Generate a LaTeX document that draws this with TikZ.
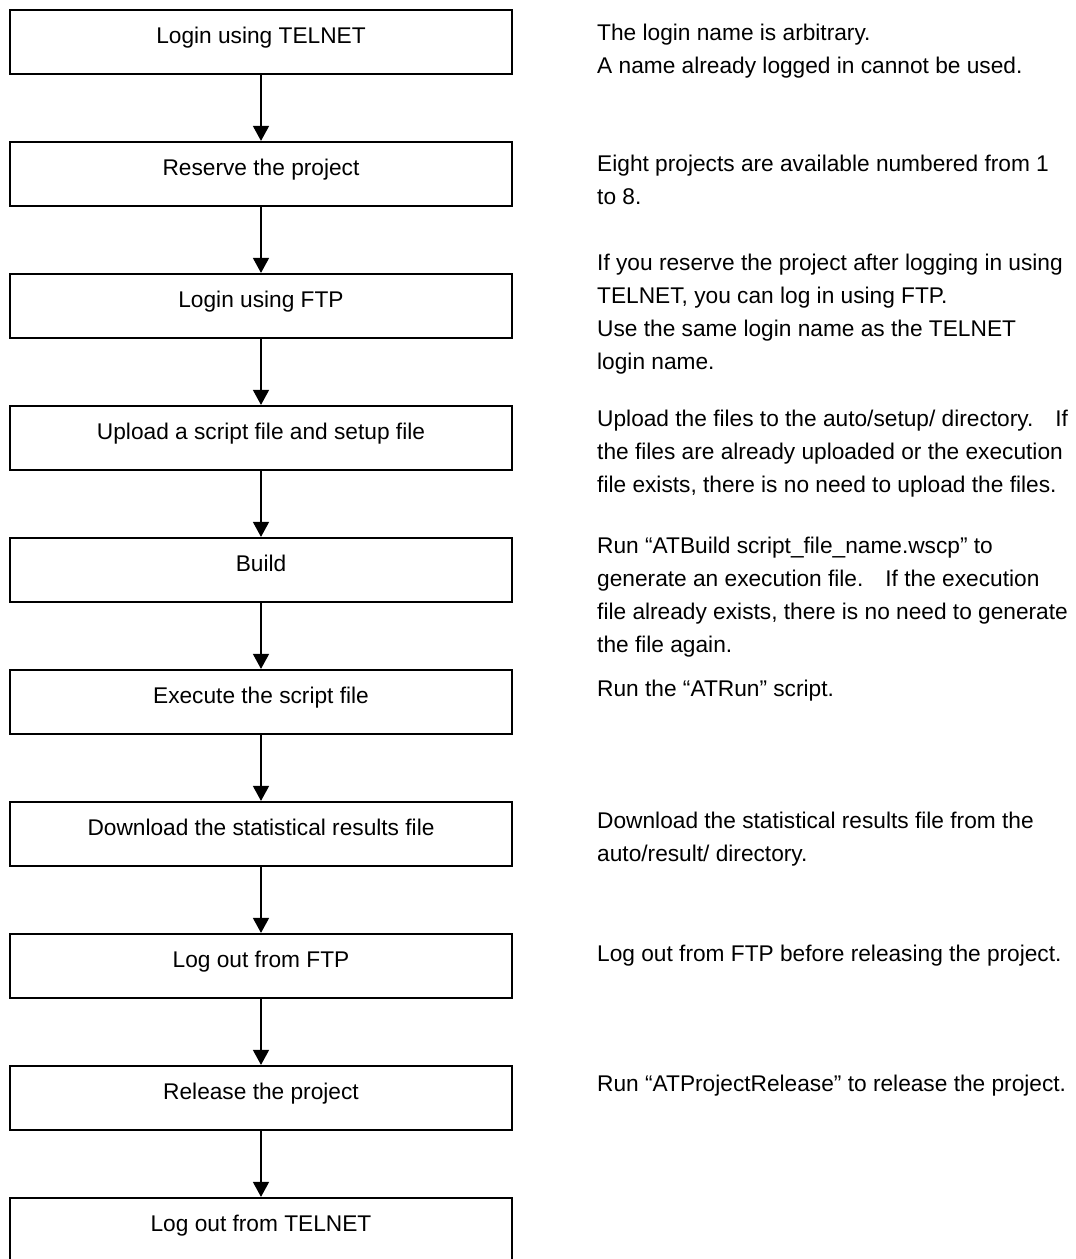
\documentclass[tikz,border=0pt]{standalone}
\usepackage{fontspec}
\setmainfont{Liberation Sans}
\usetikzlibrary{arrows.meta}
\tikzset{
  stepbox/.style={draw, line width=2.2pt, minimum width=502pt, minimum height=64pt, inner sep=0pt},
  steptext/.style={anchor=base, inner sep=0pt},
  flow/.style={line width=1.5pt, -{Triangle[width=16pt,length=15pt]}},
  note/.style={anchor=north west, align=left, inner sep=0pt},
}
\begin{document}
\begin{tikzpicture}[x=1pt, y=-1pt, font=\fontsize{22.7pt}{33pt}\selectfont]
\useasboundingbox (0,0) rectangle (1076,1259);
\clip (0,0) rectangle (1076,1259);

% procedure steps, one box each
\foreach \t [count=\i from 0] in {Login using TELNET, Reserve the project, Login using FTP,
    Upload a script file and setup file, Build, Execute the script file,
    Download the statistical results file, Log out from FTP, Release the project,
    Log out from TELNET}{
  \node[stepbox] (s\i) at (261, {42+132*\i}) {};
  \node[steptext] (l\i) at (261, {43+132*\i}) {\t};
}

% connectors between consecutive steps
\foreach \i in {0,...,8}{
  \pgfmathtruncatemacro\j{\i+1}
  \draw[flow] (s\i.south) -- (s\j.north);
}

% explanatory notes
\node[note] (n1) at (597, 16.9) {\strut The login name is arbitrary.\\A name already logged in cannot be used.};
\node[note] (n2) at (597, 147.9) {\strut Eight projects are available numbered from 1\\to 8.};
\node[note] (n3) at (597, 246.9) {\strut If you reserve the project after logging in using\\TELNET, you can log in using FTP.\\Use the same login name as the TELNET\\login name.};
\node[note] (n4) at (597, 402.9) {\strut Upload the files to the auto/setup/ directory.\hspace{22pt}If\\the files are already uploaded or the execution\\file exists, there is no need to upload the files.};
\node[note] (n5) at (597, 529.9) {\strut Run “ATBuild script\_file\_name.wscp” to\\generate an execution file.\hspace{22pt}If the execution\\file already exists, there is no need to generate\\the file again.};
\node[note] (n6) at (597, 672.9) {\strut Run the “ATRun” script.};
\node[note] (n7) at (597, 804.9) {\strut Download the statistical results file from the\\auto/result/ directory.};
\node[note] (n8) at (597, 937.9) {\strut Log out from FTP before releasing the project.};
\node[note] (n9) at (597, 1067.9) {\strut Run “ATProjectRelease” to release the project.};
\end{tikzpicture}
\end{document}
